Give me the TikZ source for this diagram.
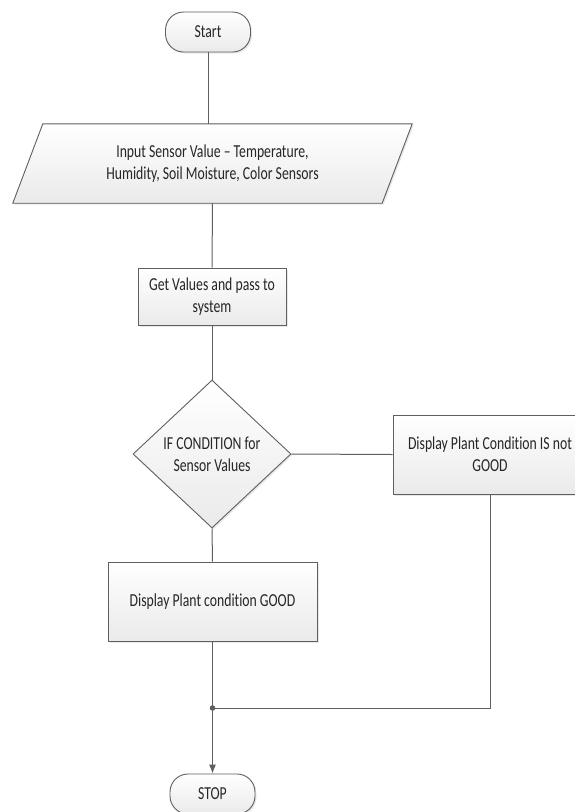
\documentclass[tikz,border=0pt]{standalone}
\usepackage{fontspec}
\setmainfont[FakeStretch=0.75, Ligatures=NoCommon]{Carlito}
\usetikzlibrary{arrows.meta,shapes.geometric,shadows}
\definecolor{linec}{RGB}{95,95,95}
\definecolor{fillb}{RGB}{234,234,234}
\tikzset{
  x=1pt, y=-1pt,
  every node/.style={font=\fontsize{18.3}{22}\selectfont, text=black!85},
  boxbase/.style={draw=linec, line width=0.9pt, top color=white, bottom color=fillb,
    drop shadow={opacity=0.18, shadow xshift=1.5pt, shadow yshift=-1.5pt}},
  term/.style={boxbase, rectangle, rounded corners=18pt, minimum width=85pt, minimum height=40pt, inner sep=0pt},
  procbox/.style={boxbase, rectangle, align=center, inner sep=0pt},
  decbox/.style={boxbase, diamond, align=center, inner sep=0pt, minimum width=158pt, minimum height=148pt},
  conn/.style={draw=linec, line width=1pt},
}
\begin{document}
\begin{tikzpicture}
\useasboundingbox[fill=white] (0,0) rectangle (574,812);
% nodes
\node[term] (start) at (208,32) {Start};
\node[rectangle, minimum width=369pt, minimum height=79pt, inner sep=0pt] (input) at (212.5,163.5) {};
\path[boxbase] ([xshift=15pt]input.north west) -- ([xshift=15pt]input.north east)
   -- ([xshift=-15pt]input.south east) -- ([xshift=-15pt]input.south west) -- cycle;
\node[align=center] (inputtext) at (input.center) {Input Sensor Value -- Temperature,\\Humidity, Soil Moisture, Color Sensors};
\node[procbox, minimum width=148pt, minimum height=57pt] (getv) at (212,296.5) {Get Values and pass to\\system};
\node[decbox] (cond) at (212,454) {IF CONDITION for\\Sensor Values};
\node[procbox, minimum width=194pt, minimum height=79pt] (bad) at (490,454.5) {Display Plant Condition IS not\\GOOD};
\node[procbox, minimum width=209pt, minimum height=79pt] (good) at (212.5,601.5) {Display Plant condition GOOD};
\node[term] (stop) at (212.5,794) {STOP};
\coordinate (j) at (212.5,708);
\coordinate (jr) at (bad.south |- j);
% connectors
\draw[conn] (start.south) -- (start.south |- input.north);
\draw[conn] (input.south) -- (getv.north);
\draw[conn] (getv.south) -- (cond.north);
\draw[conn] (cond.south) -- (good.north);
\draw[conn] (cond.east) -- (bad.west);
\draw[conn] (bad.south) -- (jr) -- (j);
\draw[conn] (good.south) -- (j);
\draw[conn, -{Latex[length=9pt,width=7pt]}] (j) -- (stop.north);
\fill[linec] (j) circle (2.8pt);
\end{tikzpicture}
\end{document}
